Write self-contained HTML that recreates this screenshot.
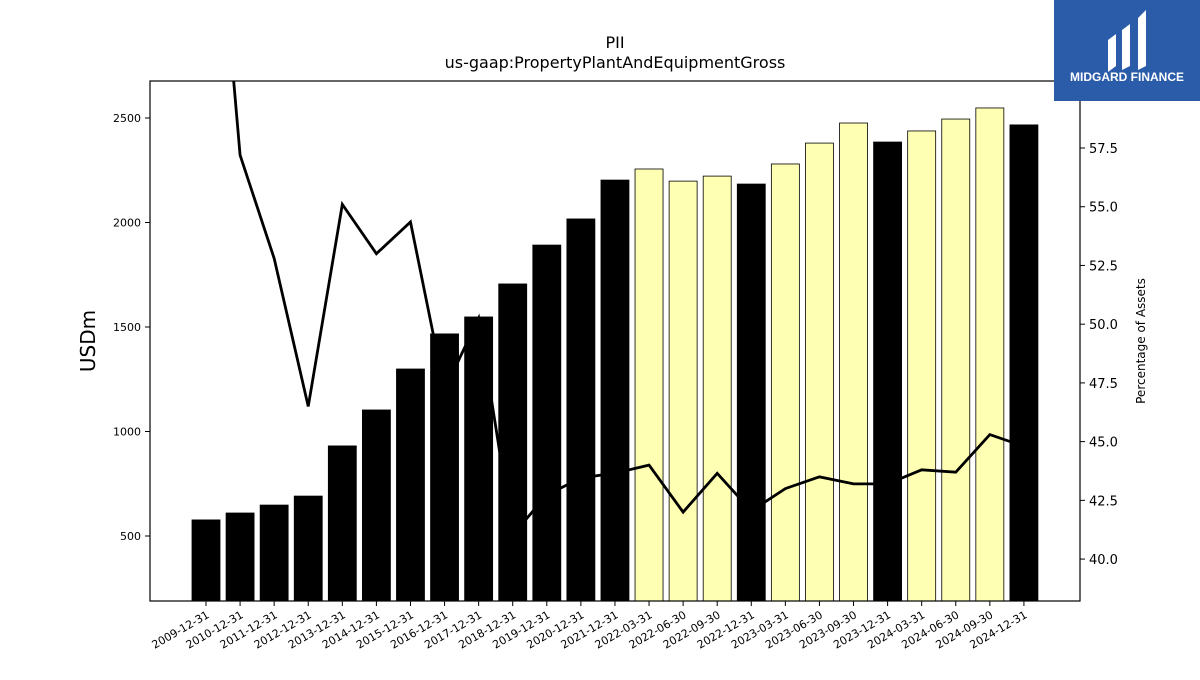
<!DOCTYPE html>
<html><head><meta charset="utf-8"><style>
body{margin:0;background:#fff;font-family:"Liberation Sans","DejaVu Sans",sans-serif}
svg text{font-family:"DejaVu Sans","Liberation Sans",sans-serif}
</style></head><body>
<svg id="chart" width="1200" height="675" xmlns="http://www.w3.org/2000/svg">
<rect width="1200" height="675" fill="#fff"/>
<text x="615" y="48" font-size="16" text-anchor="middle">PII</text>
<text x="615" y="68" font-size="16" text-anchor="middle">us-gaap:PropertyPlantAndEquipmentGross</text>
<g id="bars"></g><g id="line"></g><g id="axes"></g>
<rect x="150" y="81" width="930" height="520" fill="none" stroke="#000" stroke-width="1.2"/>
<text transform="translate(95,341) rotate(-90)" font-size="20" text-anchor="middle">USDm</text>
<text transform="translate(1145,341) rotate(-90)" font-size="12" text-anchor="middle">Percentage of Assets</text>
<g>
<rect x="1054" y="0" width="146" height="101" fill="#2a5caa"/>
<path d="M1108 40 L1116 34 L1116 66 L1108 72 Z M1122 30 L1130 24 L1130 66 L1122 70 Z M1138 18 L1146 10 L1146 66 L1138 70 Z" fill="#fff"/>
<text x="1127" y="81" font-size="12" font-weight="bold" fill="#fff" text-anchor="middle" style="font-family:'Liberation Sans',sans-serif">MIDGARD FINANCE</text>
</g>
</svg>
<script>
const categories=["2009-12-31","2010-12-31","2011-12-31","2012-12-31","2013-12-31","2014-12-31","2015-12-31","2016-12-31","2017-12-31","2018-12-31","2019-12-31","2020-12-31","2021-12-31","2022-03-31","2022-06-30","2022-09-30","2022-12-31","2023-03-31","2023-06-30","2023-09-30","2023-12-31","2024-03-31","2024-06-30","2024-09-30","2024-12-31"];
const barValues=[577,610,648,691,931,1103,1299,1467,1548,1706,1892,2017,2203,2256,2198,2222,2184,2280,2380,2476,2385,2438,2495,2548,2467];
const pctValues=[74,57.2,52.8,46.5,55.1,53.0,54.35,47.2,50.26,41.03,42.73,43.45,43.66,44.0,42.0,43.65,42.05,43.0,43.5,43.2,43.2,43.8,43.7,45.3,44.8];
const leftTicks=[500,1000,1500,2000,2500];
const rightTicks=[40.0,42.5,45.0,47.5,50.0,52.5,55.0,57.5];
const NS="http://www.w3.org/2000/svg";
const X0=150,X1=1080,Y0=81,Y1=601;
const yL=v=>640.5-v*0.209;
const yR=v=>148-(v-57.5)*23.49;
const xC=i=>206+i*34.08;
const bw=28;
function mk(t,a,p){const e=document.createElementNS(NS,t);for(const k in a)e.setAttribute(k,a[k]);p.appendChild(e);return e;}
const bars=document.getElementById('bars'),line=document.getElementById('line'),axes=document.getElementById('axes');
barValues.forEach((v,i)=>{
 const annual=categories[i].endsWith("12-31");
 const top=Math.max(yL(v),Y0);
 const r=mk('rect',{x:xC(i)-bw/2,y:top,width:bw,height:Y1-top,fill:annual?'#000':'#ffffb3',stroke:'#000','stroke-width':0.8},bars);
 
 
});
const cp=mk('clipPath',{id:'pc'},line);mk('rect',{x:X0,y:Y0,width:X1-X0,height:Y1-Y0},cp);
const pl=mk('polyline',{points:pctValues.map((v,i)=>xC(i)+','+yR(v)).join(' '),fill:'none',stroke:'#000','stroke-width':2.8,'clip-path':'url(#pc)'},line);


leftTicks.forEach(v=>{const y=yL(v);
 mk('line',{x1:X0-5,x2:X0,y1:y,y2:y,stroke:'#000'},axes);
 const t=mk('text',{x:X0-9,y:y+4,'font-size':11,'text-anchor':'end'},axes);t.textContent=v;
 
 
});
rightTicks.forEach(v=>{const y=yR(v);
 mk('line',{x1:X1,x2:X1+5,y1:y,y2:y,stroke:'#000'},axes);
 const t=mk('text',{x:X1+9,y:y+5,'font-size':13},axes);t.textContent=v.toFixed(1);
 
 
});
categories.forEach((c,i)=>{const x=xC(i);
 mk('line',{x1:x,x2:x,y1:Y1,y2:Y1+5,stroke:'#000'},axes);
 const t=mk('text',{transform:`translate(${x+4},${Y1+16}) rotate(-30)`,'font-size':11,'text-anchor':'end'},axes);t.textContent=c;
 
 
});
</script>
</body></html>
